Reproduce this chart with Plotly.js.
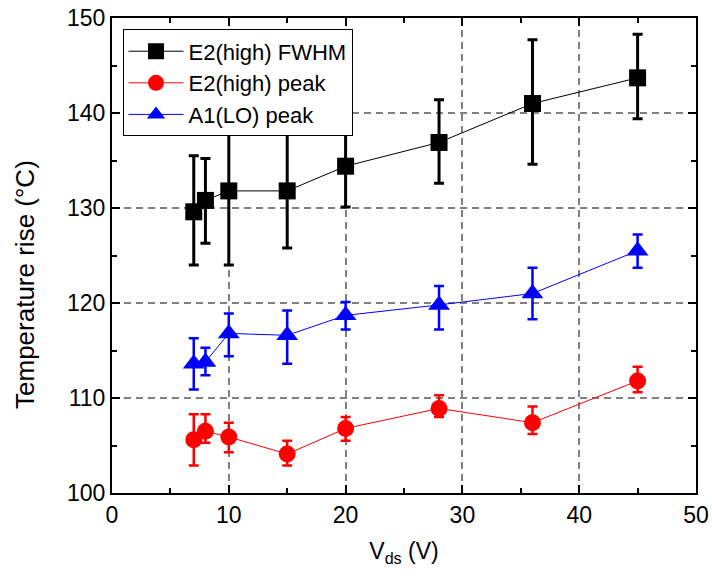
<!DOCTYPE html>
<html>
<head>
<meta charset="utf-8">
<script src="https://cdn.plot.ly/plotly-3.0.1.min.js"></script>
<style>html,body{margin:0;padding:0;background:#fff;}#chart{width:712px;height:581px;}</style>
</head>
<body>
<div id="chart"></div>
<script>
// Data
const vds = [7, 8, 10, 15, 20, 28, 36, 45];

const fwhmName = "E2(high) FWHM";
const fwhmY     = [129.6, 130.8, 131.8, 131.8, 134.4, 136.9, 141.0, 143.7];
const fwhmUpper = [135.5, 135.2, 139.6, 137.9, 138.8, 141.4, 147.7, 148.3];
const fwhmLower = [124.0, 126.3, 124.0, 125.8, 130.1, 132.6, 134.6, 139.4];

const e2Name = "E2(high) peak";
const e2Y     = [105.6, 106.5, 105.9, 104.1, 106.8, 108.9, 107.4, 111.8];
const e2Upper = [108.3, 108.3, 107.4, 105.5, 108.0, 110.3, 109.1, 113.3];
const e2Lower = [102.9, 105.3, 104.3, 102.9, 105.5, 108.0, 106.2, 110.6];

const a1Name = "A1(LO) peak";
const a1Y     = [113.6, 113.8, 116.8, 116.6, 118.7, 119.8, 121.0, 125.5];
const a1Upper = [116.3, 115.3, 118.9, 119.2, 120.1, 121.8, 123.7, 127.2];
const a1Lower = [110.9, 112.4, 114.4, 113.6, 117.2, 117.2, 118.3, 123.7];

const xTickVals = [0, 10, 20, 30, 40, 50];
const yTickVals = [100, 110, 120, 130, 140, 150];
const xTitle = 'V<sub>ds</sub> (V)';
const yTitle = 'Temperature rise (°C)';

function plus(y, up) { return y.map((v, i) => up[i] - v); }
function minus(y, lo) { return y.map((v, i) => v - lo[i]); }

function mk(name, y, up, lo, color, symbol, size, thick) {
  return {
    type: 'scatter', mode: 'lines+markers', name: name,
    x: vds, y: y,
    line: {color: color, width: 1},
    marker: {color: color, symbol: symbol, size: size, line: {width: 0}},
    error_y: {type: 'data', symmetric: false, array: plus(y, up), arrayminus: minus(y, lo),
              color: color, thickness: thick, width: 5}
  };
}

const traces = [
  mk(fwhmName, fwhmY, fwhmUpper, fwhmLower, '#000000', 'square', 17, 3),
  mk(e2Name, e2Y, e2Upper, e2Lower, '#ff0000', 'circle', 17, 2.5),
  mk(a1Name, a1Y, a1Upper, a1Lower, '#0000ff', 'triangle-up', 19, 2.5)
];

const font = 'Arial, "Liberation Sans", sans-serif';
const axisCommon = {
  showline: true, linecolor: '#000', linewidth: 2,
  mirror: 'allticks', ticks: 'inside', ticklen: 8, tickwidth: 2, tickcolor: '#000',
  showgrid: true, gridcolor: '#808080', gridwidth: 2, griddash: '7px,5px',
  zeroline: false,
  tickfont: {family: font, size: 23, color: '#000'},
  minor: {ticks: 'inside', ticklen: 5, tickwidth: 2, tickcolor: '#000', dtick: 5, showgrid: false}
};

const layout = {
  width: 712, height: 581,
  margin: {l: 112, r: 16, t: 18, b: 88},
  paper_bgcolor: '#fff', plot_bgcolor: '#fff',
  showlegend: true,
  font: {family: font, color: '#000'},
  xaxis: Object.assign({}, axisCommon, {
    range: [0, 50], tickvals: xTickVals,
    title: {text: xTitle, font: {family: font, size: 23}, standoff: 16}
  }),
  yaxis: Object.assign({}, axisCommon, {
    range: [100, 150], tickvals: yTickVals
  }),
  annotations: [{
    text: yTitle, xref: 'paper', yref: 'paper', x: -0.149, y: 0.44,
    xanchor: 'center', yanchor: 'middle', textangle: -90, showarrow: false,
    font: {family: font, size: 26, color: '#000'}
  }],
  legend: {
    x: 0.018, y: 0.976, xanchor: 'left', yanchor: 'top',
    bgcolor: '#fff', bordercolor: '#000', borderwidth: 1,
    font: {family: font, size: 22, color: '#000'},
    itemwidth: 55, tracegroupgap: 0
  }
};

Plotly.newPlot('chart', traces, layout, {displayModeBar: false, staticPlot: true});
</script>
</body>
</html>
